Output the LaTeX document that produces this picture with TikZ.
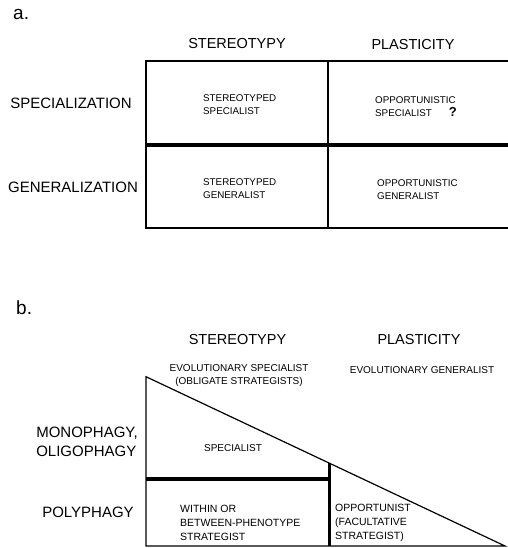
\documentclass[tikz,border=0pt]{standalone}
\usepackage{fontspec}
\setmainfont{Liberation Sans}
\usetikzlibrary{positioning}

\begin{document}
\begin{tikzpicture}[x=1pt,y=-1pt]
	\tikzset{
		hd/.style={font=\fontsize{14.5}{17}\selectfont, inner sep=0pt},
		rw/.style={font=\fontsize{15}{19.3}\selectfont, inner sep=0pt, align=left},
		cl/.style={font=\fontsize{9.8}{13}\selectfont, inner sep=0pt, align=left, anchor=west},
		clb/.style={font=\fontsize{10.5}{13.7}\selectfont, inner sep=0pt, align=left, anchor=west},
		ev/.style={font=\fontsize{10}{12.4}\selectfont, inner sep=0pt, align=center},
		tag/.style={font=\fontsize{19}{22}\selectfont, inner sep=0pt, anchor=base west},
		ln/.style={draw=black, line width=1.2pt},
		tk/.style={draw=black, line width=4pt}
	}
	\useasboundingbox (0,0) rectangle (507,548);
	
	% part a
	\node[tag] (ta) at (13,20) {a.};
	\node[hd] (hSa) at (237,44) {STEREOTYPY};
	\node[hd] (hPa) at (413,45) {PLASTICITY};
	\node[rw] (rSp) at (71,103) {SPECIALIZATION};
	\node[rw] (rGe) at (73,187) {GENERALIZATION};
	
	\coordinate (a1) at (146,61);
	\coordinate (a2) at (515,61);
	\coordinate (a3) at (146,228);
	\coordinate (a4) at (515,228);
	\coordinate (m1) at (328,61);
	\coordinate (m2) at (328,228);
	\coordinate (k1) at (146,145);
	\coordinate (k2) at (515,145);
	\draw[ln] (a2)--(a1)--(a3)--(a4);
	\draw[ln] (m1)--(m2);
	\draw[tk] (k1)--(k2);
	
	\node[cl] (cSS) at (203,105) {STEREOTYPED\\SPECIALIST};
	\node[cl] (cOS) at (375,106.5) {OPPORTUNISTIC\\SPECIALIST\hspace{17pt}{\bfseries\fontsize{13}{13}\selectfont ?}};
	\node[cl] (cSG) at (203,189) {STEREOTYPED\\GENERALIST};
	\node[cl] (cOG) at (377,190) {OPPORTUNISTIC\\GENERALIST};
	
	% part b
	\node[tag] (tb) at (16,314) {b.};
	\node[hd] (hSb) at (237.5,339.5) {STEREOTYPY};
	\node[hd] (hPb) at (419,340) {PLASTICITY};
	\node[ev] (eS) at (239,375.5) {EVOLUTIONARY SPECIALIST\\(OBLIGATE STRATEGISTS)};
	\node[ev] (eG) at (422,370) {EVOLUTIONARY GENERALIST};
	\node[rw] (rMo) at (87,441.5) {MONOPHAGY,\\OLIGOPHAGY};
	\node[rw] (rPo) at (88,512.7) {POLYPHAGY};
	
	\coordinate (t1) at (146,376.7);
	\coordinate (t2) at (146,546);
	\coordinate (t3) at (505,546);
	\coordinate (v1) at (329.3,462.7);
	\coordinate (v2) at (329.3,546);
	\coordinate (h1) at (146,479.3);
	\coordinate (h2) at (329.3,479.3);
	\draw[ln] (t1)--(t2)--(t3)--cycle;
	\draw[tk, line width=3.5pt] (v1)--(v2);
	\draw[tk] (h1)--(h2);
	
	\node[ev] (cSp) at (233,447.7) {SPECIALIST};
	\node[clb] (cWi) at (180,523) {WITHIN OR\\BETWEEN-PHENOTYPE\\STRATEGIST};
	\node[clb] (cOp) at (335,523) {OPPORTUNIST\\(FACULTATIVE\\STRATEGIST)};
\end{tikzpicture}
\end{document}
